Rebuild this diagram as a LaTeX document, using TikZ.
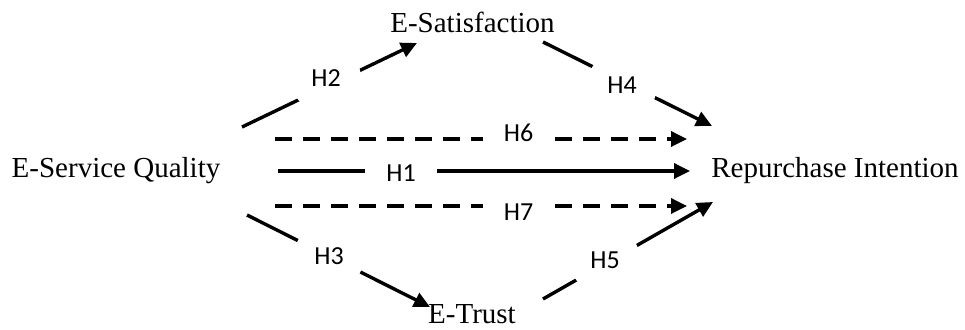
\documentclass[tikz,border=0pt]{standalone}
\usepackage{fontspec}
\setmainfont{Liberation Serif}
\newfontfamily\hfont{Carlito}
\usetikzlibrary{arrows.meta}
\begin{document}
\begin{tikzpicture}[x=1pt,y=1pt,
  concept/.style={inner sep=0pt, anchor=base, font=\fontsize{29}{34}\selectfont},
  conn/.style={line width=3.4pt},
  arr/.style={conn, -{Triangle[length=16pt,width=15pt]}},
  dashconn/.style={arr, dash pattern=on 17pt off 11pt},
  hlab/.style={font=\hfont\fontsize{26}{30}\selectfont, fill=white, inner sep=0pt},
  dlab/.style={hlab, circle, minimum size=70pt},
  rlab/.style={hlab, inner xsep=21pt, inner ysep=2pt}]
\useasboundingbox (0,0) rectangle (965,329);
% concepts
\node[concept] (esq) at (116,151) {E-Service Quality};
\node[concept] (rpi) at (835,151) {Repurchase Intention};
\node[concept] (esat) at (472.5,296) {E-Satisfaction};
\node[concept] (etr) at (472,6) {E-Trust};
% connector end points
\coordinate (h2s) at (242,202); \coordinate (h2e) at (417,286);
\coordinate (h4s) at (543,287); \coordinate (h4e) at (712,203);
\coordinate (h6s) at (275,190); \coordinate (h6e) at (687,190);
\coordinate (h1s) at (278,158); \coordinate (h1e) at (690,158);
\coordinate (h7s) at (275,123); \coordinate (h7e) at (687,123);
\coordinate (h3s) at (247,114); \coordinate (h3e) at (430,22);
\coordinate (h5s) at (543,30);  \coordinate (h5e) at (713,127);
% connectors
\draw[arr] (h2s) -- (h2e);
\draw[arr] (h4s) -- (h4e);
\draw[dashconn] (h6s) -- (h6e);
\draw[arr] (h1s) -- (h1e);
\draw[dashconn] (h7s) -- (h7e);
\draw[arr] (h3s) -- (h3e);
\draw[arr] (h5s) -- (h5e);
% labels
\node[dlab] (l2) at (326,250.5) {H2};
\node[dlab] (l4) at (622,243.5) {H4};
\node[rlab] (l6) at (518.5,196.5) {H6};
\node[rlab] (l1) at (401,155.5) {H1};
\node[rlab] (l7) at (518.5,116.5) {H7};
\node[dlab] (l3) at (329,72.5) {H3};
\node[dlab] (l5) at (605,69) {H5};
\end{tikzpicture}
\end{document}
